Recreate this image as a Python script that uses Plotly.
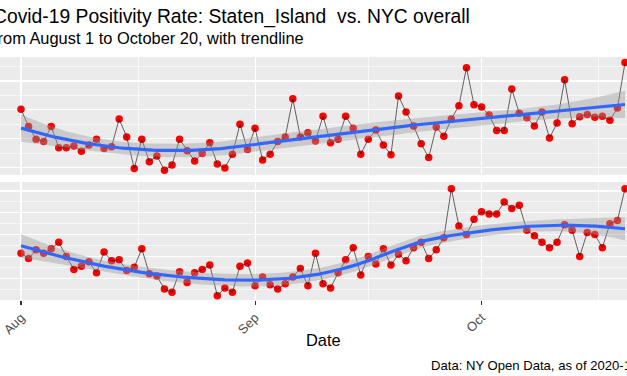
import numpy as np
import pandas as pd
import plotly.graph_objects as go

# ---------------- data ----------------
start_date = "2020-08-01"
end_date = "2020-10-20"
dates = pd.date_range(start_date, end_date, freq="D")

staten_island = [
    2.01, 1.71, 1.49, 1.45, 1.71, 1.34, 1.34, 1.37, 1.28, 1.39,
    1.49, 1.33, 1.36, 1.84, 1.53, 0.98, 1.49, 1.10, 1.20, 0.95,
    1.04, 1.49, 1.29, 1.11, 1.24, 1.43, 1.06, 0.99, 1.23, 1.75,
    1.31, 1.68, 1.13, 1.23, 1.45, 1.53, 2.19, 1.53, 1.60, 1.46,
    1.89, 1.43, 1.49, 1.89, 1.68, 1.23, 1.49, 1.65, 1.39, 1.22,
    2.24, 1.96, 1.72, 1.41, 1.17, 1.70, 1.54, 1.84, 2.07, 2.73,
    2.09, 2.05, 1.91, 1.64, 1.64, 2.36, 1.94, 1.86, 1.72, 1.96,
    1.51, 1.77, 2.52, 1.76, 1.88, 1.92, 1.87, 1.89, 1.82, 2.03,
    2.82,
]

nyc_overall = [
    1.23, 1.18, 1.26, 1.23, 1.27, 1.33, 1.20, 1.08, 1.11, 1.15,
    1.05, 1.24, 1.16, 1.17, 1.07, 1.10, 1.27, 1.04, 1.02, 0.90,
    0.87, 1.06, 0.96, 1.05, 1.08, 1.12, 0.84, 0.91, 0.87, 1.11,
    1.14, 0.93, 1.01, 0.94, 0.90, 0.95, 1.01, 1.09, 0.93, 1.23,
    0.95, 0.91, 1.05, 1.17, 1.28, 1.03, 1.20, 1.13, 1.27, 1.12,
    1.22, 1.16, 1.28, 1.33, 1.18, 1.26, 1.37, 1.82, 1.48, 1.40,
    1.54, 1.61, 1.59, 1.59, 1.70, 1.64, 1.67, 1.44, 1.39, 1.33,
    1.28, 1.33, 1.49, 1.44, 1.20, 1.42, 1.40, 1.28, 1.50, 1.53,
    1.82,
]

month_ticks = ["2020-08-01", "2020-09-01", "2020-10-01"]
month_labels = ["Aug", "Sep", "Oct"]
month_minor = ["2020-07-16 12:00", "2020-08-16 12:00", "2020-09-16", "2020-10-16 12:00"]

top_major = [1.0, 1.5, 2.0, 2.5]
top_minor = [1.25, 1.75, 2.25, 2.75]
bot_major = [1.0, 1.2, 1.4, 1.6, 1.8]
bot_minor = [0.9, 1.1, 1.3, 1.5, 1.7]

title_text = "Covid-19 Positivity Rate: Staten_Island  vs. NYC overall"
subtitle_text = "from August 1 to October 20, with trendline"
caption_text = "Data: NY Open Data, as of 2020-10-21"
xlab = "Date"


# ---------------- loess smoother (as geom_smooth) ----------------
def loess_matrix(x, x0s, span=0.75):
    n = len(x)
    q = int(np.floor(n * span))
    rows = []
    for x0 in x0s:
        d = np.abs(x - x0)
        h = np.sort(d)[q - 1]
        w = (1 - np.clip(d / h, 0, 1) ** 3) ** 3
        X = np.vstack([np.ones(n), x - x0, (x - x0) ** 2]).T
        XtW = X.T * w
        l = np.linalg.solve(XtW @ X, XtW)[0]
        rows.append(l)
    return np.array(rows)


def t975(df):
    z = 1.959964
    return (z + (z ** 3 + z) / (4 * df)
            + (5 * z ** 5 + 16 * z ** 3 + 3 * z) / (96 * df ** 2)
            + (3 * z ** 7 + 19 * z ** 5 + 17 * z ** 3 - 15 * z) / (384 * df ** 3))


def smooth(yvals):
    y = np.asarray(yvals, float)
    x = np.arange(len(y), dtype=float)
    L = loess_matrix(x, x)
    res = y - L @ y
    IL = np.eye(len(y)) - L
    M = IL.T @ IL
    d1 = np.trace(M)
    d2 = np.trace(M @ M)
    s = np.sqrt(np.sum(res ** 2) / d1)
    df = d1 ** 2 / d2
    grid = np.linspace(0, len(y) - 1, 161)
    Lg = loess_matrix(x, grid)
    fit = Lg @ y
    se = s * np.sqrt((Lg ** 2).sum(axis=1))
    t = t975(df)
    gdates = pd.Timestamp(start_date) + pd.to_timedelta(grid, unit="D")
    return gdates, fit, fit - t * se, fit + t * se


fig = go.Figure()


def add_panel(vals, xa, ya):
    fig.add_trace(go.Scatter(x=dates, y=vals, mode="markers",
                             marker=dict(color="#FF0000", size=7.5, line=dict(width=0)),
                             xaxis=xa, yaxis=ya, hoverinfo="skip", cliponaxis=True))
    fig.add_trace(go.Scatter(x=dates, y=vals, mode="lines",
                             line=dict(color="rgba(30,30,30,0.85)", width=0.8),
                             xaxis=xa, yaxis=ya, hoverinfo="skip"))
    gd, fit, lo, hi = smooth(vals)
    fig.add_trace(go.Scatter(x=gd, y=hi, mode="lines", line=dict(width=0),
                             xaxis=xa, yaxis=ya, hoverinfo="skip"))
    fig.add_trace(go.Scatter(x=gd, y=lo, mode="lines", line=dict(width=0),
                             fill="tonexty", fillcolor="rgba(153,153,153,0.4)",
                             xaxis=xa, yaxis=ya, hoverinfo="skip"))
    fig.add_trace(go.Scatter(x=gd, y=fit, mode="lines",
                             line=dict(color="#3366FF", width=3.2),
                             xaxis=xa, yaxis=ya, hoverinfo="skip"))


add_panel(staten_island, "x2", "y2")
add_panel(nyc_overall, "x", "y")

W, H = 627, 376
mt, mb = 57, 76
ph = H - mt - mb
px_per_day = 7.55
x_left = (pd.Timestamp(start_date) - pd.Timedelta(days=21 / px_per_day)).strftime("%Y-%m-%d %H:%M:%S")
x_right = (pd.Timestamp(start_date) + pd.Timedelta(days=(W - 21) / px_per_day)).strftime("%Y-%m-%d %H:%M:%S")

xcommon = dict(range=[x_left, x_right], autorange=False, type="date",
               showgrid=True, gridcolor="white", gridwidth=1.1,
               zeroline=False, showline=False,
               minor=dict(tickvals=month_minor, showgrid=True, gridcolor="white", gridwidth=0.6))

fig.update_layout(
    width=W, height=H,
    margin=dict(l=0, r=0, t=mt, b=mb, pad=0),
    paper_bgcolor="white", plot_bgcolor="#EBEBEB",
    showlegend=False,
    font=dict(family="Liberation Sans, Arial, sans-serif", color="black"),
    xaxis=dict(**xcommon, anchor="y", tickmode="array", tickvals=month_ticks, ticktext=month_labels,
               ticks="outside", ticklen=4, tickwidth=1.1, tickcolor="#333333",
               tickangle=-45, tickfont=dict(size=13, color="#4D4D4D")),
    xaxis2=dict(**xcommon, anchor="y2", tickmode="array", tickvals=month_ticks,
                showticklabels=False, ticks=""),
    yaxis=dict(domain=[0, 118 / ph], range=[0.8, 1.8826], tickmode="array", tickvals=bot_major,
               showticklabels=False, ticks="", showgrid=True, gridcolor="white", gridwidth=1.1,
               zeroline=False,
               minor=dict(tickvals=bot_minor, showgrid=True, gridcolor="white", gridwidth=0.6)),
    yaxis2=dict(domain=[125 / ph, 1], range=[0.868, 2.917], tickmode="array", tickvals=top_major,
                showticklabels=False, ticks="", showgrid=True, gridcolor="white", gridwidth=1.1,
                zeroline=False,
                minor=dict(tickvals=top_minor, showgrid=True, gridcolor="white", gridwidth=0.6)),
)


def py(p):
    return (H - mb - p) / ph


fig.add_annotation(text=title_text, xref="paper", yref="paper", x=-9 / W, y=py(17),
                   xanchor="left", yanchor="middle", showarrow=False,
                   font=dict(size=19.3, color="black"))
fig.add_annotation(text=subtitle_text, xref="paper", yref="paper", x=-9 / W, y=py(38.5),
                   xanchor="left", yanchor="middle", showarrow=False,
                   font=dict(size=16.4, color="black"))
fig.add_annotation(text=xlab, xref="paper", yref="paper", x=323 / W, y=py(340),
                   xanchor="center", yanchor="middle", showarrow=False,
                   font=dict(size=16.4, color="black"))
fig.add_annotation(text=caption_text, xref="paper", yref="paper", x=429 / W, y=py(366),
                   xanchor="left", yanchor="middle", showarrow=False,
                   font=dict(size=13.1, color="black"))

fig.write_html("out.html",
               config={"displayModeBar": False, "staticPlot": True},
               post_script="document.body.style.margin='0';document.body.style.overflow='hidden';")
